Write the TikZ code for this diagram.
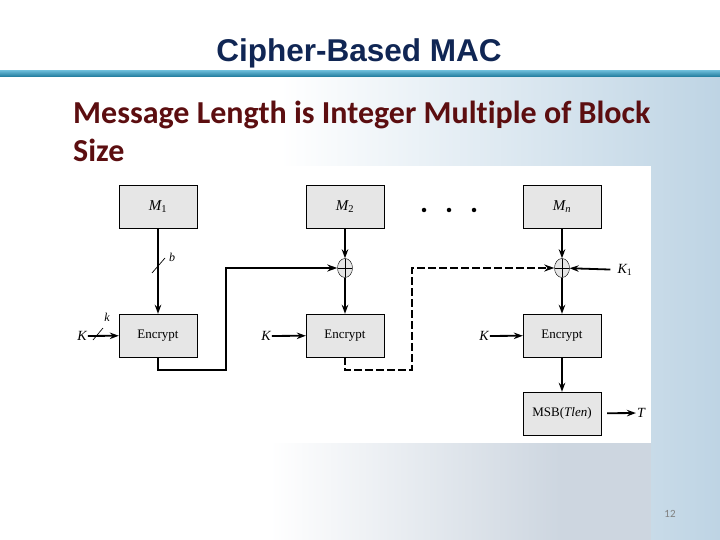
\documentclass[tikz,border=0pt]{standalone}
\usepackage{fontspec}
\setmainfont{Liberation Serif}
\newfontfamily\titlefont{Liberation Sans}
\newfontfamily\subfont[Ligatures=CommonOff]{Carlito}
\usetikzlibrary{arrows.meta,calc,shapes.geometric}
\definecolor{titleblue}{RGB}{16,38,84}
\definecolor{subred}{RGB}{92,14,16}
\definecolor{barblue}{RGB}{34,150,192}
\definecolor{skyish}{RGB}{190,212,228}
\definecolor{fogish}{RGB}{205,214,224}
\definecolor{boxgray}{RGB}{230,230,230}

\begin{document}
\begin{tikzpicture}[x=1pt,y=-1pt]
        \tikzset{block/.style={draw,fill=boxgray,minimum width=78pt,minimum height=43pt,
                inner sep=0pt,font=\fontsize{13}{15}\selectfont},
            msg/.style={block,font=\fontsize{15}{17}\selectfont\itshape},
            xor/.style={draw,ellipse,fill=boxgray,minimum width=15pt,minimum height=19pt,inner sep=0pt,
                path picture={\draw[line width=0.5pt]
                    (path picture bounding box.north) -- (path picture bounding box.south)
                    (path picture bounding box.west) -- (path picture bounding box.east);}},
            flow/.style={line width=1.8pt,-{Stealth[length=9pt,width=6.5pt]}},
            route/.style={line width=2.6pt,-{Stealth[length=10pt,width=7pt]}},
            lbl/.style={font=\fontsize{14}{16}\selectfont\itshape,inner sep=1pt},
            subline/.style={text=subred,font=\subfont\bfseries\fontsize{32}{39}\selectfont,
                anchor=base west,inner sep=0pt},
            dot/.style={circle,fill,minimum size=4.5pt,inner sep=0pt}}
        \useasboundingbox (0,0) rectangle (720,540);
        % slide background
        \fill[white] (0,0) rectangle (720,540);
        \shade[left color=white,right color=skyish] (280,78) rectangle (720,540);
        \shade[left color=white,right color=fogish] (270,443) rectangle (560,540);
        \fill[fogish] (560,443) rectangle (651,540);
        \shade[top color=barblue!70,bottom color=barblue!80!black] (0,71) rectangle (720,77);
        \node[text=titleblue,font=\titlefont\bfseries\fontsize{31.5}{34}\selectfont,anchor=base] (title) at (359,62) {Cipher-Based MAC};
        \node[subline] (sub) at (73,124) {Message Length is Integer Multiple of Block};
        \node[subline] (subb) at (73,162) {Size};
        \node[text=gray,font=\subfont\fontsize{11}{12}\selectfont] (page) at (670,514) {12};
        % figure panel
        \fill[white] (72,166) rectangle (651,443);
        \node[msg] (m1) at (158,206.5) {M\textsubscript{\upshape 1}};
        \node[msg] (m2) at (345,206.5) {M\textsubscript{\upshape 2}};
        \node[msg] (mn) at (562,206.5) {M\textsubscript{n}};
        \node[block] (e1) at (158,335.5) {Encrypt};
        \node[block] (e2) at (345,335.5) {Encrypt};
        \node[block] (e3) at (562,335.5) {Encrypt};
        \node[block] (msb) at (562,413.5) {MSB(\textit{Tlen})};
        \node[xor] (x2) at (345,268) {};
        \node[xor] (x3) at (562,268) {};
        \foreach \i/\x in {1/424,2/449,3/474}
            \node[dot] (d\i) at (\x,210) {};
        \node[lbl] (ka) at (82,336) {K};
        \node[lbl] (kb) at (266,336) {K};
        \node[lbl] (kc) at (484,336) {K};
        \node[lbl] (kone) at (625,270) {K\textsubscript{\upshape 1}};
        \node[lbl] (t) at (641,413) {T};
        \node[lbl,font=\fontsize{12}{14}\selectfont\itshape] (b) at (172,257) {b};
        \node[lbl,font=\fontsize{12}{14}\selectfont\itshape] (k) at (107,317) {k};
        \coordinate (bslash) at (158,266);
        \coordinate (kslash) at (98,334);
        % connectors
        \draw[flow] (m1) -- (e1);
        \draw[line width=0.7pt] ($(bslash)+(-6,7)$) -- ($(bslash)+(7,-8)$);
        \draw[flow] (ka) -- (e1);
        \draw[line width=0.7pt] ($(kslash)+(-5,6)$) -- ($(kslash)+(5,-6)$);
        \draw[flow] (m2) -- (x2);
        \draw[flow] (x2) -- (e2);
        \draw[flow] (kb) -- (e2);
        \draw[flow] (mn) -- (x3);
        \draw[flow] (x3) -- (e3);
        \draw[flow] (kc) -- (e3);
        \draw[flow,shorten <=6pt] (kone) -- (x3);
        \draw[flow] (e3) -- (msb);
        \draw[flow,shorten <=6pt] (msb) -- (t);
        \draw[route] (e1.south) |- (226,370) |- (x2.west);
        \draw[route,dash pattern=on 8pt off 3pt] (e2.south) |- (412,370) |- (x3.west);
    \end{tikzpicture}
\end{document}
